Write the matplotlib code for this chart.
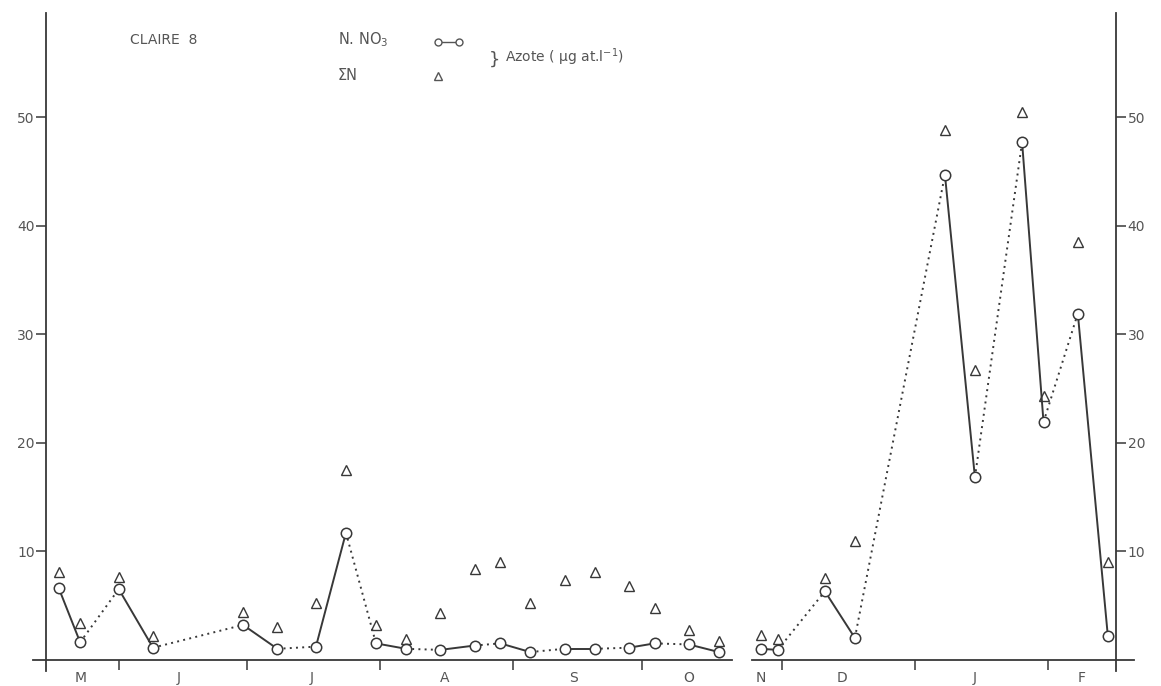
import matplotlib
matplotlib.use('Agg')
import matplotlib.pyplot as plt
import matplotlib.dates as mdates
from matplotlib.lines import Line2D
import pandas as pd

# sampling dates (May -> Oct), then after the break (Nov -> Feb)
dates_ete = ['1976-05-18', '1976-05-23', '1976-06-01', '1976-06-09', '1976-06-30',
             '1976-07-08', '1976-07-17', '1976-07-24', '1976-07-31', '1976-08-07',
             '1976-08-15', '1976-08-23', '1976-08-29', '1976-09-05', '1976-09-13',
             '1976-09-20', '1976-09-28', '1976-10-04', '1976-10-12', '1976-10-19']
no3_ete = [6.6, 1.6, 6.5, 1.1, 3.2, 1.0, 1.2, 11.7, 1.5, 1.0,
           0.9, 1.3, 1.5, 0.7, 1.0, 1.0, 1.1, 1.5, 1.4, 0.7]
sumn_ete = [8.1, 3.4, 7.6, 2.2, 4.4, 3.0, 5.2, 17.5, 3.2, 1.9,
            4.3, 8.4, 9.0, 5.2, 7.3, 8.1, 6.8, 4.8, 2.7, 1.7]

dates_hiver = ['1976-11-26', '1976-11-30', '1976-12-11', '1976-12-18', '1977-01-08',
               '1977-01-15', '1977-01-26', '1977-01-31', '1977-02-08', '1977-02-15']
no3_hiver = [1.0, 0.9, 6.3, 2.0, 44.7, 16.8, 47.7, 21.9, 31.9, 2.2]
sumn_hiver = [2.3, 1.9, 7.5, 10.9, 48.8, 26.7, 50.5, 24.3, 38.5, 9.0]

months_ete = ['M', 'J', 'J', 'A', 'S', 'O']
month_pos_ete = ['1976-05-23', '1976-06-15', '1976-07-16', '1976-08-16', '1976-09-15', '1976-10-12']
bounds_ete = ['1976-06-01', '1976-07-01', '1976-08-01', '1976-09-01', '1976-10-01']

months_hiver = ['N', 'D', 'J', 'F']
month_pos_hiver = ['1976-11-26', '1976-12-15', '1977-01-15', '1977-02-09']
bounds_hiver = ['1976-12-01', '1977-01-01', '1977-02-01']

yticks = [10, 20, 30, 40, 50]

INK = '#383838'
TXT = '#555555'
W, H = 1161, 686
PX_DAY = 4.287

fig = plt.figure(figsize=(W / 100, H / 100), dpi=100)


def num(d):
    return mdates.date2num(pd.to_datetime(d))


def panel(x0, d0, d1, spine_day, side):
    w = (pd.Timestamp(d1) - pd.Timestamp(d0)).days * PX_DAY
    ax = fig.add_axes([x0 / W, (H - 670.5) / H, w / W, 657.5 / H])
    ax.set_xlim(num(d0), num(d1))
    ax.set_ylim(-1, 59.6)
    for s in ['top', 'left', 'right']:
        ax.spines[s].set_visible(False)
    ax.spines['bottom'].set_position(('data', 0))
    ax.spines['bottom'].set_color(INK)
    ax.spines['bottom'].set_linewidth(1.3)
    ax.spines[side].set_visible(True)
    ax.spines[side].set_position(('data', num(spine_day)))
    ax.spines[side].set_color(INK)
    ax.spines[side].set_linewidth(1.3)
    if side == 'right':
        ax.yaxis.tick_right()
    ax.set_yticks(yticks)
    ax.tick_params(axis='y', direction='out', length=7, width=1.1, color=INK,
                   labelsize=10, labelcolor=TXT, pad=1)
    return ax


def trace(ax, dates, no3, sumn):
    x = num(dates)
    # paired samples joined by a solid line, successive pairs by a dotted one
    for i in range(len(x) - 1):
        ls = '-' if i % 2 == 0 else (0, (1, 2.2))
        ax.plot(x[i:i + 2], no3[i:i + 2], color=INK, lw=1.4, ls=ls, zorder=2)
    ax.plot(x, no3, 'o', ms=7.5, mfc='white', mec=INK, mew=1.1, zorder=3)
    ax.plot(x, sumn, '^', ms=7.5, mfc='none', mec=INK, mew=1.0, zorder=3)


def months(ax, bounds, pos, labels):
    ax.set_xticks(num(bounds), labels=[''] * len(bounds))
    ax.set_xticks(num(pos), labels=labels, minor=True)
    ax.tick_params(axis='x', which='major', direction='out', length=7, width=1.1, color=INK)
    ax.tick_params(axis='x', which='minor', length=0, pad=8, labelsize=10, labelcolor=TXT)


ax1 = panel(33, '1976-05-12', '1976-10-22', '1976-05-15', 'left')
trace(ax1, dates_ete, no3_ete, sumn_ete)
months(ax1, bounds_ete, month_pos_ete, months_ete)

ax2 = panel(752, '1976-11-24', '1977-02-21', '1977-02-17', 'right')
trace(ax2, dates_hiver, no3_hiver, sumn_hiver)
months(ax2, bounds_hiver, month_pos_hiver, months_hiver)


def fx(px):
    return px / W


def fy(py):
    return 1 - py / H


fig.text(fx(130), fy(40), 'CLAIRE  8', color=TXT, fontsize=10, va='center')
fig.text(fx(338), fy(44), 'N. NO$_3$', color=TXT, fontsize=10.5, va='baseline')
fig.text(fx(338), fy(80), '\u03a3N', color=TXT, fontsize=10.5, va='baseline')
fig.add_artist(Line2D([fx(438), fx(459)], [fy(42), fy(42)], color=TXT, lw=1,
                      marker='o', ms=5, mfc='white', mec=TXT, transform=fig.transFigure))
fig.add_artist(Line2D([fx(438)], [fy(76)], color=TXT, lw=0, marker='^', ms=6,
                      mfc='none', mec=TXT, transform=fig.transFigure))
fig.text(fx(489), fy(60), '}', color=TXT, fontsize=13, va='center')
fig.text(fx(505), fy(62), 'Azote ( \u00b5g at.l$^{-1}$)', color=TXT, fontsize=10, va='baseline')

fig.savefig('out.png', dpi=100)
